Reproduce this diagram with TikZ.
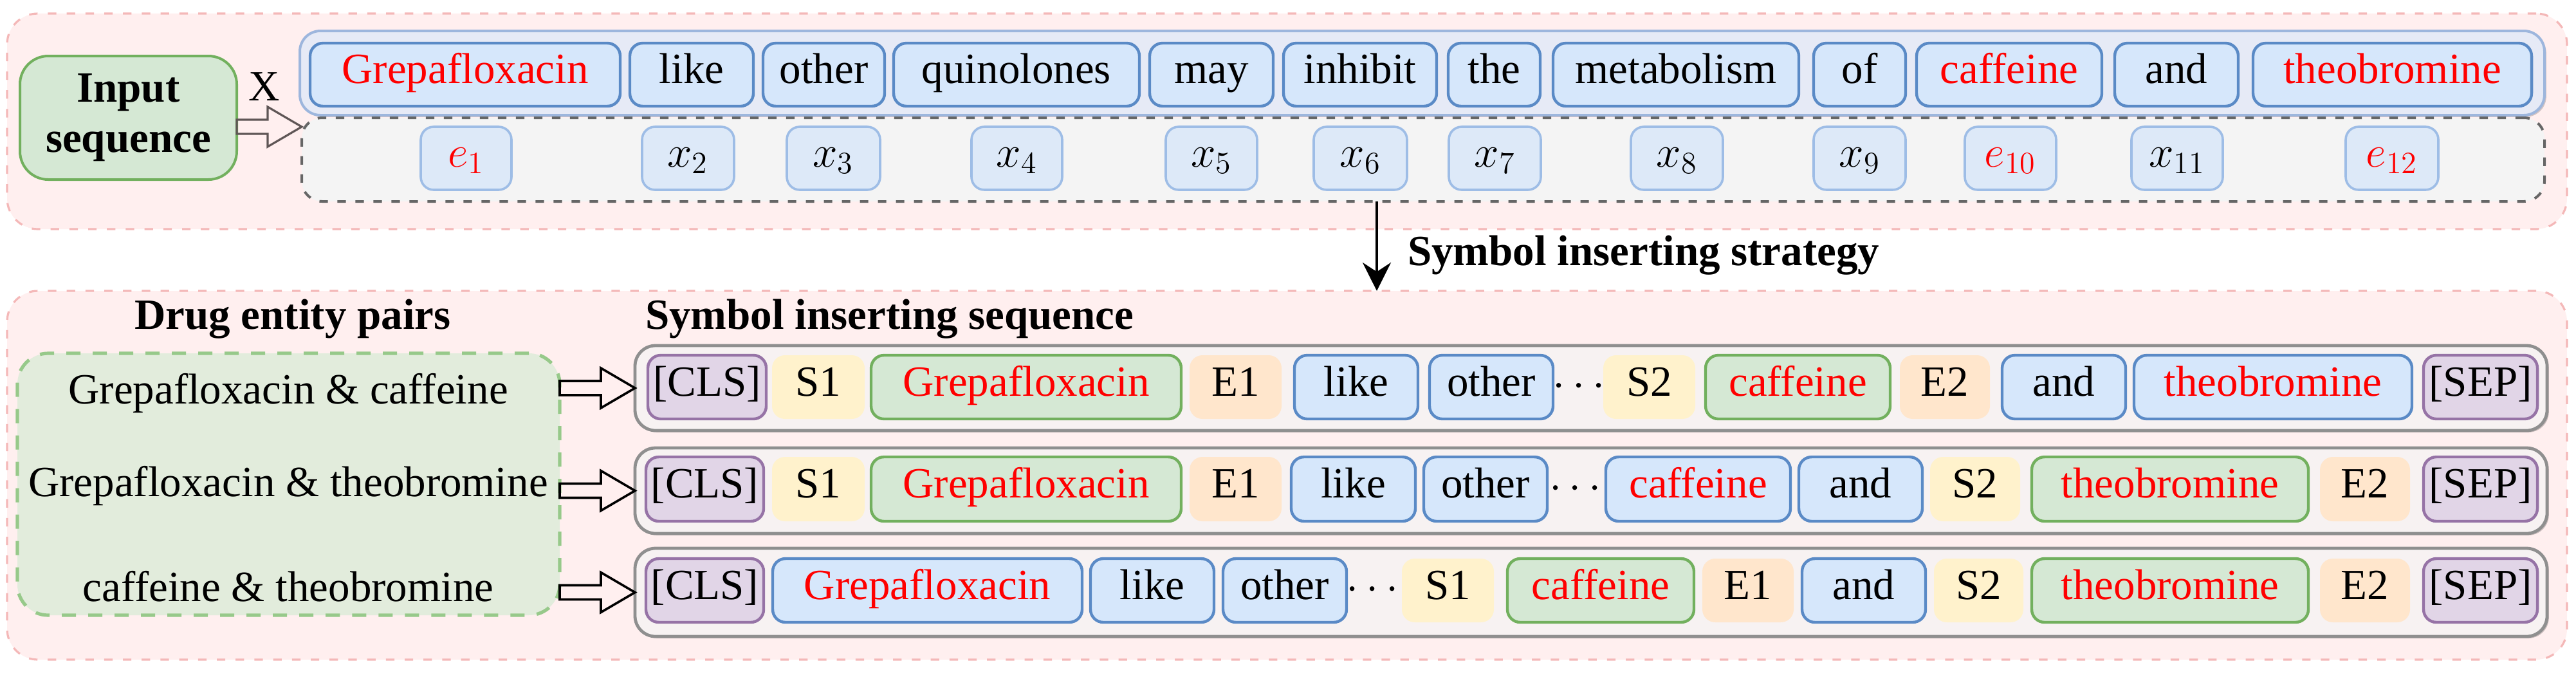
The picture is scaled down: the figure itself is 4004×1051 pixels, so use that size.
\documentclass[tikz,border=0pt]{standalone}
\usepackage{fontspec}
\setmainfont{Liberation Serif}
\usetikzlibrary{arrows.meta,calc,shadows}

\definecolor{pinkfill}{HTML}{FFEFEF}
\definecolor{pinkdraw}{HTML}{F4B8B8}
\definecolor{bluefill}{HTML}{D6E7FB}
\definecolor{bluedraw}{HTML}{5A8AC6}
\definecolor{outerfill}{HTML}{E6EAF6}
\definecolor{outerdraw}{HTML}{9DB6DD}
\definecolor{evfill}{HTML}{DDE9F8}
\definecolor{evdraw}{HTML}{9EBDE6}
\definecolor{grayfill}{HTML}{F4F4F4}
\definecolor{graydash}{HTML}{666666}
\definecolor{rowfill}{HTML}{F7F2F2}
\definecolor{rowdraw}{HTML}{8F8F8F}
\definecolor{greenfill}{HTML}{D5E8D4}
\definecolor{greendraw}{HTML}{72B05E}
\definecolor{pairfill}{HTML}{E2ECDC}
\definecolor{pairdraw}{HTML}{97C98A}
\definecolor{yellowfill}{HTML}{FFF2CC}
\definecolor{orangefill}{HTML}{FFE6CC}
\definecolor{purplefill}{HTML}{E1D5E7}
\definecolor{purpledraw}{HTML}{9673A6}
\definecolor{entred}{HTML}{FF0000}
\definecolor{arrowgray}{HTML}{5F5656}

\newcommand{\fs}{\fontsize{16.75}{19.5}\selectfont}

\tikzset{
  every node/.style={font=\fs, inner sep=0pt, outer sep=0pt},
  tokbase/.style={rounded corners=5pt, text height=0.82em, text depth=0.14em},
  wordbox/.style={tokbase, draw=bluedraw, fill=bluefill, line width=1.1pt},
  evec/.style={tokbase, draw=evdraw, fill=evfill, line width=0.9pt, font=\fontsize{18}{20}\selectfont},
  greenbox/.style={tokbase, draw=greendraw, fill=greenfill, line width=1.1pt},
  clsbox/.style={tokbase, draw=purpledraw, fill=purplefill, line width=1.1pt},
  startbox/.style={tokbase, fill=yellowfill},
  endbox/.style={tokbase, fill=orangefill},
  ent/.style={text=entred},
  pinkpanel/.style={rounded corners=12pt, fill=pinkfill, draw=pinkdraw, line width=0.8pt, dash pattern=on 3.3pt off 4pt},
  outerrow/.style={rounded corners=8pt, fill=outerfill, draw=outerdraw, line width=1pt,
    drop shadow={shadow xshift=0.7pt, shadow yshift=-0.7pt, opacity=0.18, fill=black}},
  grayrow/.style={rounded corners=8pt, fill=grayfill, draw=graydash, line width=1pt, dash pattern=on 3.3pt off 3.7pt},
  rowpanel/.style={rounded corners=8pt, fill=rowfill, draw=rowdraw, line width=1.2pt,
    drop shadow={shadow xshift=0.7pt, shadow yshift=-0.7pt, opacity=0.22, fill=black}},
  pairpanel/.style={rounded corners=12pt, fill=pairfill, draw=pairdraw, line width=1.3pt, dash pattern=on 5.5pt off 4.75pt},
  inputbox/.style={rounded corners=11pt, fill=greenfill, draw=greendraw, line width=1pt, align=center, font=\fs\bfseries},
  hollowtop/.style={draw=arrowgray, line width=0.8pt, line join=miter},
  hollowbot/.style={draw=black, line width=0.9pt, line join=miter},
  header/.style={font=\fs\bfseries},
}

% #1 name, #2 style, #3 x1, #4 x2, #5 y1, #6 y2, #7 text
\newcommand{\tokbox}[7]{%
  \pgfmathsetlengthmacro\tkw{(#4-#3)*0.25pt}%
  \pgfmathsetlengthmacro\tkh{(#6-#5)*0.25pt}%
  \node[#2, minimum width=\tkw, minimum height=\tkh] (#1) at ({(#3+#4)/2},{(#5+#6)/2}) {#7};}
\newcommand{\tw}[4]{\tokbox{#1}{wordbox,#2}{#3}{#4}{67}{165}}
\newcommand{\te}[4]{\tokbox{#1}{evec,#2}{#3}{#4}{197}{295}}
\newcommand{\rA}[4]{\tokbox{#1}{#2}{#3}{#4}{552}{651}}
\newcommand{\rB}[4]{\tokbox{#1}{#2}{#3}{#4}{710}{810}}
\newcommand{\rC}[4]{\tokbox{#1}{#2}{#3}{#4}{868}{967}}
% #1 style, #2 tail, #3 tip
\newcommand{\hollowarrow}[3]{%
  \draw[#1] let \p1=(#2), \p2=(#3) in
    (\x1,\y1+2.75pt) -- (\x2-13.25pt,\y1+2.75pt) -- (\x2-13.25pt,\y1+7.75pt) -- (\x2,\y1)
    -- (\x2-13.25pt,\y1-7.75pt) -- (\x2-13.25pt,\y1-2.75pt) -- (\x1,\y1-2.75pt) -- cycle;}

\begin{document}
\begin{tikzpicture}[x=0.25pt,y=-0.25pt]
\useasboundingbox (0,0) rectangle (4004,1051);

% ---------- panels ----------
\tokbox{toppanel}{pinkpanel}{11}{3990}{21}{356}{}
\tokbox{botpanel}{pinkpanel}{11}{3990}{452}{1025}{}

% ---------- top part ----------
\tokbox{inp}{inputbox}{31}{368}{87}{279}{Input\\sequence}
\node (xlab) at (411,135) {X};
\tokbox{wordrow}{outerrow}{466}{3955}{48}{179}{}
\tokbox{erow}{grayrow}{469}{3955}{183}{313}{}

\tw{w1}{ent}{482}{964}{Grepafloxacin}
\tw{w2}{}{979}{1171}{like}
\tw{w3}{}{1186}{1375}{other}
\tw{w4}{}{1389}{1771}{quinolones}
\tw{w5}{}{1787}{1979}{may}
\tw{w6}{}{1995}{2233}{inhibit}
\tw{w7}{}{2251}{2394}{the}
\tw{w8}{}{2414}{2796}{metabolism}
\tw{w9}{}{2819}{2962}{of}
\tw{w10}{ent}{2979}{3267}{caffeine}
\tw{w11}{}{3287}{3479}{and}
\tw{w12}{ent}{3502}{3935}{theobromine}

\te{v1}{ent}{654}{795}{$e_1$}
\te{v2}{}{998}{1141}{$x_2$}
\te{v3}{}{1223}{1368}{$x_3$}
\te{v4}{}{1510}{1651}{$x_4$}
\te{v5}{}{1812}{1954}{$x_5$}
\te{v6}{}{2042}{2187}{$x_6$}
\te{v7}{}{2252}{2395}{$x_7$}
\te{v8}{}{2535}{2678}{$x_8$}
\te{v9}{}{2819}{2962}{$x_9$}
\te{v10}{ent}{3054}{3196}{$e_{10}$}
\te{v11}{}{3313}{3455}{$x_{11}$}
\te{v12}{ent}{3646}{3790}{$e_{12}$}

\coordinate (ya) at (0,197);
\hollowarrow{hollowtop}{inp.east |- ya}{erow.west |- ya}

% ---------- transition ----------
\coordinate (vx) at (2140,0);
\draw[line width=1pt, -{Stealth[length=11pt,width=11pt]}] (erow.south -| vx) -- (botpanel.north -| vx);
\node[header, anchor=west] (strat) at (2188,397) {Symbol inserting strategy};

% ---------- bottom part ----------
\node[header] (pairhead) at (455,496) {Drug entity pairs};
\node[header, anchor=west] (seqhead) at (1003,496) {Symbol inserting sequence};
\tokbox{pairs}{pairpanel}{27}{870}{549}{956}{}
\node (p1) at (448,611) {Grepafloxacin \& caffeine};
\node (p2) at (448,755) {Grepafloxacin \& theobromine};
\node (p3) at (448,911) {caffeine \& theobromine};

\tokbox{rowA}{rowpanel}{987}{3959}{537}{669}{}
\tokbox{rowB}{rowpanel}{987}{3959}{696}{829}{}
\tokbox{rowC}{rowpanel}{987}{3959}{852}{989}{}

\hollowarrow{hollowbot}{pairs.east |- rowA.west}{rowA.west}
\hollowarrow{hollowbot}{pairs.east |- rowB.west}{rowB.west}
\hollowarrow{hollowbot}{pairs.east |- rowC.west}{rowC.west}

% row 1
\rA{a1}{clsbox}{1007}{1191}{[CLS]}
\rA{a2}{startbox}{1200}{1344}{S1}
\rA{a3}{greenbox,ent}{1354}{1836}{Grepafloxacin}
\rA{a4}{endbox}{1849}{1992}{E1}
\rA{a5}{wordbox}{2012}{2204}{like}
\rA{a6}{wordbox}{2222}{2414}{other}
\rA{a7}{}{2425}{2483}{$\cdots$}
\rA{a8}{startbox}{2492}{2635}{S2}
\rA{a9}{greenbox,ent}{2651}{2938}{caffeine}
\rA{a10}{endbox}{2953}{3093}{E2}
\rA{a11}{wordbox}{3112}{3304}{and}
\rA{a12}{wordbox,ent}{3317}{3749}{theobromine}
\rA{a13}{clsbox}{3767}{3944}{[SEP]}

% row 2
\rB{b1}{clsbox}{1004}{1187}{[CLS]}
\rB{b2}{startbox}{1200}{1344}{S1}
\rB{b3}{greenbox,ent}{1354}{1836}{Grepafloxacin}
\rB{b4}{endbox}{1849}{1992}{E1}
\rB{b5}{wordbox}{2007}{2200}{like}
\rB{b6}{wordbox}{2213}{2405}{other}
\rB{b7}{}{2420}{2477}{$\cdots$}
\rB{b8}{wordbox,ent}{2496}{2783}{caffeine}
\rB{b9}{wordbox}{2796}{2988}{and}
\rB{b10}{startbox}{3000}{3140}{S2}
\rB{b11}{greenbox,ent}{3158}{3588}{theobromine}
\rB{b12}{endbox}{3606}{3746}{E2}
\rB{b13}{clsbox}{3767}{3944}{[SEP]}

% row 3
\rC{c1}{clsbox}{1004}{1187}{[CLS]}
\rC{c2}{wordbox,ent}{1201}{1682}{Grepafloxacin}
\rC{c3}{wordbox}{1695}{1887}{like}
\rC{c4}{wordbox}{1901}{2093}{other}
\rC{c5}{}{2104}{2162}{$\cdots$}
\rC{c6}{startbox}{2179}{2322}{S1}
\rC{c7}{greenbox,ent}{2343}{2633}{caffeine}
\rC{c8}{endbox}{2646}{2788}{E1}
\rC{c9}{wordbox}{2801}{2993}{and}
\rC{c10}{startbox}{3006}{3145}{S2}
\rC{c11}{greenbox,ent}{3158}{3588}{theobromine}
\rC{c12}{endbox}{3606}{3746}{E2}
\rC{c13}{clsbox}{3767}{3944}{[SEP]}
\end{tikzpicture}
\end{document}
